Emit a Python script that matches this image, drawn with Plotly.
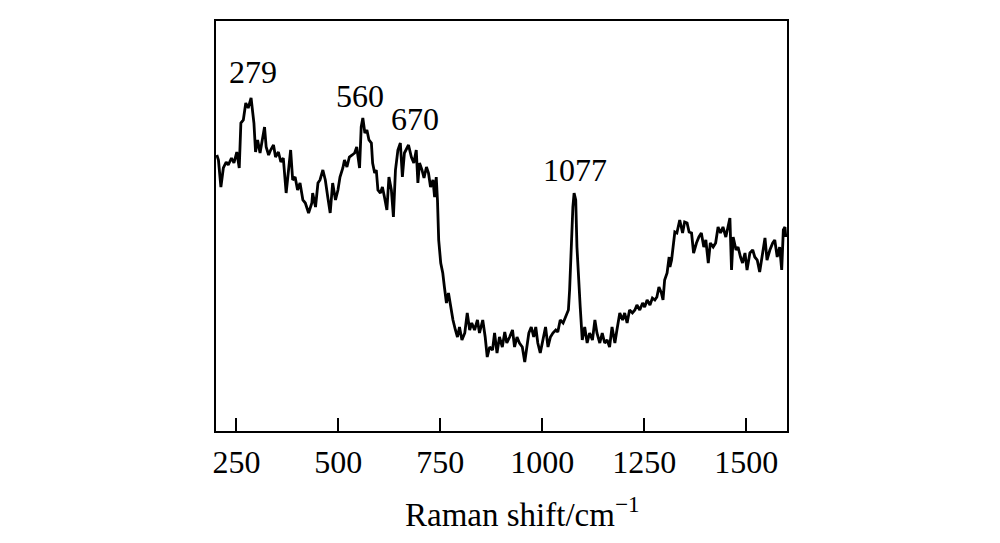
import plotly.graph_objects as go

# Raman shift (cm^-1) and intensity (a.u.)
shift = [202, 206, 212, 218, 225, 230, 238, 244, 251, 257, 261, 267, 273, 279, 286,
         290, 293, 297, 302, 308, 315, 319, 323, 329, 334, 341, 346, 353, 359, 365,
         372, 378, 383, 388, 394, 400, 406, 413, 419, 427, 429, 435, 437, 444, 450,
         455, 462, 468, 474, 480, 486, 493, 499, 504, 511, 515, 521, 527, 534, 540,
         545, 552, 556, 560, 565, 570, 575, 581, 584, 589, 593, 597, 603, 608, 613,
         619, 624, 630, 635, 640, 646, 652, 657, 662, 672, 679, 685, 691, 695, 699,
         705, 710, 716, 721, 726, 732, 736, 740, 743, 744, 746, 751, 756, 760, 765,
         770, 775, 781, 787, 792, 797, 803, 810, 816, 822, 827, 834, 841, 846, 854,
         860, 865, 871, 878, 883, 889, 895, 902, 908, 913, 920, 927, 932, 938, 944,
         951, 957, 962, 967, 973, 979, 984, 989, 995, 1002, 1008, 1014, 1020, 1026, 1033,
         1038, 1044, 1051, 1057, 1064, 1067, 1071, 1075, 1078, 1082, 1085, 1090, 1093, 1098, 1104,
         1110, 1116, 1123, 1129, 1134, 1141, 1147, 1153, 1159, 1165, 1171, 1178, 1183, 1190, 1197,
         1202, 1208, 1214, 1221, 1227, 1232, 1239, 1246, 1251, 1257, 1264, 1270, 1276, 1281, 1286,
         1292, 1296, 1300, 1306, 1311, 1313, 1317, 1321, 1325, 1330, 1337, 1344, 1349, 1355, 1360,
         1366, 1371, 1378, 1384, 1390, 1396, 1401, 1407, 1412, 1419, 1425, 1431, 1437, 1443, 1450,
         1456, 1460, 1464, 1468, 1475, 1480, 1486, 1491, 1497, 1502, 1509, 1516, 1521, 1527, 1533,
         1540, 1546, 1551, 1558, 1565, 1570, 1576, 1582, 1587, 1591, 1595, 1597]

intensity = [276, 271, 244, 263, 269, 266, 273, 268, 279, 263, 308, 311, 328, 323, 333,
             321, 308, 279, 291, 278, 294, 304, 284, 276, 281, 286, 274, 279, 269, 273,
             238, 263, 281, 251, 254, 241, 248, 231, 228, 218, 221, 228, 238, 224, 248,
             251, 261, 251, 234, 218, 248, 231, 241, 254, 263, 271, 264, 274, 276, 278,
             284, 263, 304, 313, 298, 301, 291, 288, 268, 258, 261, 241, 238, 244, 234,
             221, 254, 241, 214, 261, 281, 288, 254, 278, 286, 274, 268, 281, 248, 268,
             261, 253, 264, 258, 244, 251, 234, 254, 231, 214, 191, 168, 158, 144, 128,
             138, 124, 111, 101, 94, 104, 91, 98, 118, 101, 108, 101, 111, 98, 111,
             94, 74, 84, 81, 98, 78, 94, 84, 99, 88, 94, 101, 84, 94, 88,
             84, 69, 84, 98, 104, 94, 104, 88, 78, 94, 104, 84, 94, 98, 101,
             99, 111, 108, 114, 121, 141, 184, 224, 238, 231, 184, 141, 124, 91, 104,
             88, 98, 91, 111, 98, 88, 98, 88, 91, 84, 104, 88, 101, 118, 111,
             118, 108, 121, 118, 121, 126, 121, 128, 124, 131, 126, 133, 131, 134, 144,
             138, 131, 151, 158, 174, 164, 171, 188, 199, 198, 211, 198, 209, 208, 199,
             198, 178, 188, 194, 198, 184, 191, 168, 188, 184, 188, 204, 198, 204, 194,
             208, 213, 161, 194, 181, 184, 174, 168, 178, 161, 178, 181, 174, 171, 159,
             178, 193, 171, 181, 188, 191, 174, 184, 161, 201, 204, 194]

# Peak labels
peak_labels = ["279", "560", "670", "1077"]
label_x = [291, 553, 687, 1081]
label_y = [359, 335, 312, 261]

x_ticks = [250, 500, 750, 1000, 1250, 1500]
x_title = "Raman shift/cm<sup>\u22121</sup>"

FONT = "Liberation Serif"

fig = go.Figure()
fig.add_trace(go.Scatter(
    x=shift, y=intensity, mode="lines",
    line=dict(color="black", width=2.8),
    showlegend=False, hoverinfo="skip",
))

for t, lx, ly in zip(peak_labels, label_x, label_y):
    fig.add_annotation(x=lx, y=ly, xref="x", yref="y", text=t, showarrow=False,
                       font=dict(family=FONT, size=32, color="black"),
                       xanchor="center", yanchor="middle")

# axis title, placed as in the reference (slightly right of centre)
fig.add_annotation(x=0.536, y=-0.197, xref="paper", yref="paper", text=x_title,
                   showarrow=False, xanchor="center", yanchor="middle",
                   font=dict(family=FONT, size=33, color="black"))

fig.update_layout(
    width=1000, height=543,
    margin=dict(l=208, r=221, t=13, b=120),
    paper_bgcolor="white", plot_bgcolor="white",
    font=dict(family=FONT, color="black"),
    xaxis=dict(
        range=[200, 1600], tickvals=x_ticks, ticktext=[str(v) for v in x_ticks],
        ticks="inside", ticklen=13, tickwidth=2, tickcolor="black",
        showline=True, linecolor="black", linewidth=2, mirror=True,
        showgrid=False, zeroline=False,
        tickfont=dict(family=FONT, size=32, color="black"),
        ticklabelstandoff=2,
    ),
    yaxis=dict(
        range=[0, 410], showticklabels=False, ticks="",
        showline=True, linecolor="black", linewidth=2, mirror=True,
        showgrid=False, zeroline=False,
    ),
)

fig.write_html("out.html")
